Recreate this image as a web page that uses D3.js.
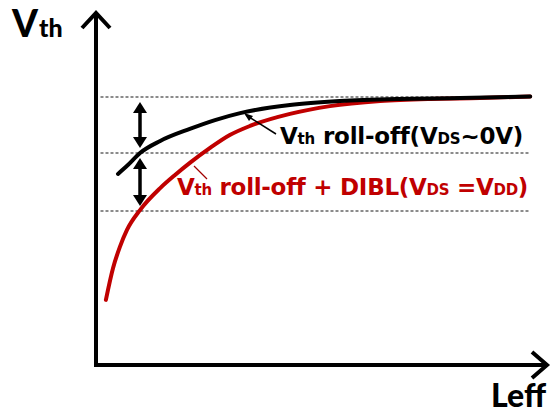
<!DOCTYPE html>
<html>
<head>
<meta charset="utf-8">
<script src="https://d3js.org/d3.v7.min.js"></script>
<style>
  html, body { margin: 0; padding: 0; background: #fff; }
  svg { display: block; font-family: Lato, "Open Sans", sans-serif; font-weight: 900; }
  .curve-label { font-family: "DejaVu Sans", sans-serif; font-weight: bold; }
</style>
</head>
<body>
<svg id="chart" width="551" height="415"></svg>
<script>
// Effective channel length (arbitrary units) and threshold voltage (normalised)
const leffLong = [4.9, 7.1, 9.8, 14.3, 20.9, 26.5, 32.1, 43.2, 54.3, 67.7, 81.1, 96.7];
const vthLowVds = [0.713, 0.746, 0.791, 0.836, 0.881, 0.914, 0.940, 0.970, 0.985, 0.993, 0.996, 1.002];

const leffDibl = [2.2, 3.8, 5.3, 6.9, 9.8, 14.3, 17.6, 20.9, 25.4, 29.8, 34.3, 43.2, 52.1, 63.3, 74.4, 85.5, 96.7];
const vthHighVds = [0.243, 0.362, 0.440, 0.504, 0.578, 0.660, 0.709, 0.754, 0.810, 0.858, 0.892, 0.937, 0.966, 0.985, 0.993, 0.996, 1.002];

// Reference levels: long-channel Vth, Vth after roll-off, Vth after roll-off + DIBL
const refLevels = [1.0, 0.791, 0.575];
const arrowLeff = 9.8;

const svg = d3.select("#chart");
const x = d3.scaleLinear().domain([0, 100]).range([96, 545]);
const y = d3.scaleLinear().domain([0, 1]).range([365, 97]);

// Dotted reference lines
svg.selectAll("line.ref").data(refLevels).join("line")
  .attr("class", "ref")
  .attr("x1", x(1)).attr("x2", x(96.5))
  .attr("y1", d => y(d)).attr("y2", d => y(d))
  .attr("stroke", "#666").attr("stroke-width", 1.5)
  .attr("stroke-dasharray", "3,2");

// Axes without ticks
const yAxis = svg.append("g").attr("transform", `translate(${x(0)},0)`)
  .call(d3.axisLeft(y).tickValues([]).tickSizeOuter(0));
yAxis.select(".domain").attr("stroke", "#000").attr("stroke-width", 4)
  .attr("d", `M0,${y(0) + 2}V14`);
const xAxis = svg.append("g").attr("transform", `translate(0,${y(0)})`)
  .call(d3.axisBottom(x).tickValues([]).tickSizeOuter(0));
xAxis.select(".domain").attr("stroke", "#000").attr("stroke-width", 4)
  .attr("d", `M${x(0) - 2},0H547`);

// Open arrowheads at the axis ends
svg.append("path")
  .attr("d", `M${x(0) - 14},28L${x(0)},13L${x(0) + 14},28`)
  .attr("fill", "none").attr("stroke", "#000").attr("stroke-width", 4);
svg.append("path")
  .attr("d", `M532,${y(0) - 13}L547,${y(0)}L532,${y(0) + 13}`)
  .attr("fill", "none").attr("stroke", "#000").attr("stroke-width", 4);

// Curves
const line = d3.line().x(d => x(d[0])).y(d => y(d[1])).curve(d3.curveMonotoneX);
svg.append("path")
  .datum(d3.zip(leffDibl, vthHighVds))
  .attr("d", line).attr("fill", "none")
  .attr("stroke", "#c00000").attr("stroke-width", 4).attr("stroke-linecap", "round");
svg.append("path")
  .datum(d3.zip(leffLong, vthLowVds))
  .attr("d", line).attr("fill", "none")
  .attr("stroke", "#000").attr("stroke-width", 4).attr("stroke-linecap", "round");

// Double-headed arrows between reference levels
function doubleArrow(v1, v2) {
  const ax = x(arrowLeff);
  const top = y(v1) + 5, bot = y(v2) - 5;
  const g = svg.append("g");
  g.append("line").attr("x1", ax).attr("x2", ax)
    .attr("y1", top + 8).attr("y2", bot - 8)
    .attr("stroke", "#000").attr("stroke-width", 3.5);
  g.append("path").attr("d", `M${ax},${top}L${ax - 7},${top + 11}L${ax + 7},${top + 11}Z`).attr("fill", "#000");
  g.append("path").attr("d", `M${ax},${bot}L${ax - 7},${bot - 11}L${ax + 7},${bot - 11}Z`).attr("fill", "#000");
}
doubleArrow(refLevels[0], refLevels[1]);
doubleArrow(refLevels[1], refLevels[2]);

// Leader lines from labels to curves
svg.append("line").attr("x1", 276).attr("y1", 134).attr("x2", 246).attr("y2", 115)
  .attr("stroke", "#000").attr("stroke-width", 1.5);
svg.append("path").attr("d", "M244,113L253,116L249,121Z").attr("fill", "#000");
svg.append("line").attr("x1", 207).attr("y1", 179).attr("x2", 194).attr("y2", 166)
  .attr("stroke", "#a00000").attr("stroke-width", 1.2);

// Axis titles
const vthTitle = svg.append("text").attr("x", 12).attr("y", 37).attr("fill", "#000");
vthTitle.append("tspan").attr("font-size", 37).text("V");
vthTitle.append("tspan").attr("font-size", 25).attr("dx", 1).text("th");

svg.append("text").attr("x", 491).attr("y", 407).attr("fill", "#000")
  .attr("font-size", 32).text("Leff");

// Curve labels, spread to their set width
function label(xp, yp, width, color, parts) {
  const t = svg.append("text").attr("class", "curve-label")
    .attr("x", xp).attr("y", yp).attr("fill", color);
  parts.forEach(([s, small]) => t.append("tspan").attr("font-size", small ? 15 : 23).text(s));
  const len = t.node().getComputedTextLength();
  const n = parts.reduce((a, p) => a + p[0].length, 0);
  t.attr("letter-spacing", (width - len) / (n - 1));
}
label(280, 144, 242, "#000", [["V", 0], ["th", 1], [" roll-off(V", 0], ["DS", 1], ["~0V)", 0]]);
label(177, 195, 350, "#c00000", [["V", 0], ["th", 1], [" roll-off + DIBL(V", 0], ["DS", 1], [" =V", 0], ["DD", 1], [")", 0]]);
</script>
</body>
</html>
